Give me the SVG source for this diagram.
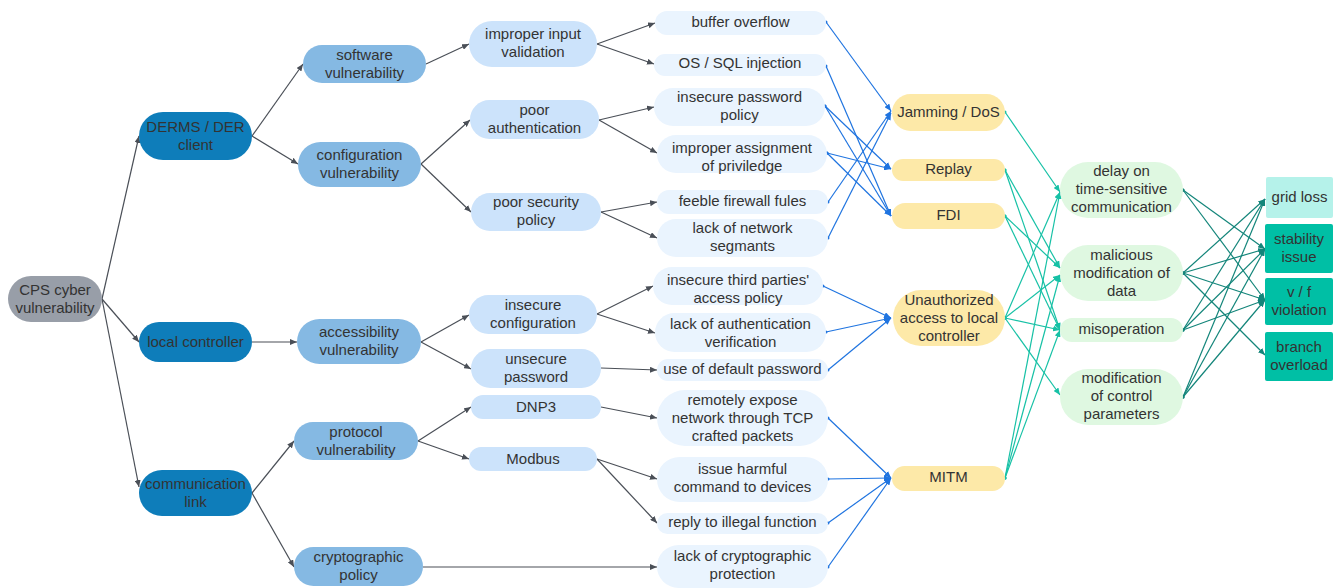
<svg xmlns="http://www.w3.org/2000/svg" width="1338" height="588" viewBox="0 0 1338 588">
<style>
text{font-family:"Liberation Sans",Arial,sans-serif;font-size:15px;fill:#333333;text-anchor:middle}
.c0{fill:#989ea8}
.c1{fill:#0e7dba}
.c2{fill:#85b9e3}
.c3{fill:#cce3fb}
.c4{fill:#eaf4fe}
.c5{fill:#fde9a8}
.c6{fill:#dff8e1}
.c7{fill:#b5f2ea}
.c8{fill:#00bfa5}
.g line{stroke:#4a4f57;stroke-width:1.2;marker-end:url(#ag)}
.b line{stroke:#1f74e0;stroke-width:1.2;marker-end:url(#ab);marker-start:url(#db)}
.t line{stroke:#17c1a6;stroke-width:1.2;marker-end:url(#at);marker-start:url(#dt)}
.d line{stroke:#13857a;stroke-width:1.2;marker-end:url(#ad);marker-start:url(#dd)}
</style>
<defs>
<marker id="ag" markerUnits="userSpaceOnUse" markerWidth="8" markerHeight="6" refX="7" refY="3" orient="auto"><path d="M0,0 L7,3 L0,6 z" fill="#4a4f57"/></marker>
<marker id="ab" markerUnits="userSpaceOnUse" markerWidth="8" markerHeight="6" refX="7" refY="3" orient="auto"><path d="M0,0 L7,3 L0,6 z" fill="#1f74e0"/></marker>
<marker id="at" markerUnits="userSpaceOnUse" markerWidth="8" markerHeight="6" refX="7" refY="3" orient="auto"><path d="M0,0 L7,3 L0,6 z" fill="#17c1a6"/></marker>
<marker id="ad" markerUnits="userSpaceOnUse" markerWidth="8" markerHeight="6" refX="7" refY="3" orient="auto"><path d="M0,0 L7,3 L0,6 z" fill="#13857a"/></marker>
<marker id="db" markerUnits="userSpaceOnUse" markerWidth="4" markerHeight="4" refX="2" refY="2"><circle cx="2" cy="2" r="1.5" fill="#1f74e0"/></marker>
<marker id="dt" markerUnits="userSpaceOnUse" markerWidth="4" markerHeight="4" refX="2" refY="2"><circle cx="2" cy="2" r="1.5" fill="#17c1a6"/></marker>
<marker id="dd" markerUnits="userSpaceOnUse" markerWidth="4" markerHeight="4" refX="2" refY="2"><circle cx="2" cy="2" r="1.5" fill="#13857a"/></marker>
</defs>
<rect width="1338" height="588" fill="#ffffff"/>

<g id="connectors">
<g class="g">
<line x1="102" y1="299" x2="139" y2="136"/>
<line x1="102" y1="299" x2="139" y2="342"/>
<line x1="102" y1="299" x2="139" y2="487"/>
<line x1="252" y1="136" x2="303" y2="64"/>
<line x1="252" y1="136" x2="298" y2="164"/>
<line x1="252" y1="342" x2="297" y2="342"/>
<line x1="252" y1="493" x2="294" y2="441"/>
<line x1="252" y1="493" x2="294" y2="567"/>
<line x1="426" y1="64" x2="469" y2="44"/>
<line x1="421" y1="164" x2="470" y2="120"/>
<line x1="421" y1="164" x2="471" y2="212"/>
<line x1="421" y1="342" x2="469" y2="315"/>
<line x1="421" y1="342" x2="471" y2="369"/>
<line x1="418" y1="441" x2="471" y2="407"/>
<line x1="418" y1="441" x2="469" y2="459"/>
<line x1="423" y1="567" x2="657" y2="567"/>
<line x1="597" y1="44" x2="655" y2="23"/>
<line x1="597" y1="44" x2="654" y2="64"/>
<line x1="599" y1="120" x2="654" y2="107"/>
<line x1="599" y1="120" x2="657" y2="153"/>
<line x1="601" y1="212" x2="657" y2="202"/>
<line x1="601" y1="212" x2="657" y2="238"/>
<line x1="597" y1="314" x2="653" y2="286"/>
<line x1="597" y1="314" x2="655" y2="333"/>
<line x1="601" y1="368" x2="657" y2="370"/>
<line x1="601" y1="407" x2="657" y2="418"/>
<line x1="597" y1="459" x2="657" y2="479"/>
<line x1="597" y1="459" x2="657" y2="523"/>
</g>
<g class="b">
<line x1="826" y1="22" x2="891" y2="111"/>
<line x1="826" y1="66" x2="891" y2="216"/>
<line x1="825" y1="106" x2="891" y2="169"/>
<line x1="825" y1="106" x2="891" y2="216"/>
<line x1="827" y1="153" x2="891" y2="169"/>
<line x1="827" y1="153" x2="891" y2="216"/>
<line x1="828" y1="202" x2="891" y2="111"/>
<line x1="828" y1="238" x2="891" y2="113"/>
<line x1="823" y1="286" x2="891" y2="318"/>
<line x1="826" y1="332" x2="891" y2="318"/>
<line x1="828" y1="370" x2="891" y2="318"/>
<line x1="828" y1="418" x2="891" y2="478"/>
<line x1="828" y1="479" x2="891" y2="478"/>
<line x1="828" y1="523" x2="891" y2="478"/>
<line x1="828" y1="567" x2="891" y2="478"/>
</g>
<g class="t">
<line x1="1005" y1="112" x2="1060" y2="192"/>
<line x1="1005" y1="170" x2="1060" y2="268"/>
<line x1="1005" y1="170" x2="1060" y2="330"/>
<line x1="1005" y1="216" x2="1060" y2="268"/>
<line x1="1005" y1="216" x2="1060" y2="330"/>
<line x1="1005" y1="318" x2="1060" y2="192"/>
<line x1="1005" y1="318" x2="1060" y2="275"/>
<line x1="1005" y1="318" x2="1060" y2="330"/>
<line x1="1005" y1="318" x2="1060" y2="395"/>
<line x1="1005" y1="478" x2="1060" y2="192"/>
<line x1="1005" y1="478" x2="1060" y2="275"/>
<line x1="1005" y1="478" x2="1060" y2="330"/>
</g>
<g class="d">
<line x1="1183" y1="190" x2="1265" y2="249"/>
<line x1="1183" y1="190" x2="1265" y2="300"/>
<line x1="1183" y1="273" x2="1265" y2="199"/>
<line x1="1183" y1="273" x2="1265" y2="249"/>
<line x1="1183" y1="273" x2="1265" y2="300"/>
<line x1="1183" y1="273" x2="1265" y2="355"/>
<line x1="1183" y1="330" x2="1265" y2="199"/>
<line x1="1183" y1="330" x2="1265" y2="249"/>
<line x1="1183" y1="330" x2="1265" y2="300"/>
<line x1="1183" y1="397" x2="1265" y2="199"/>
<line x1="1183" y1="397" x2="1265" y2="249"/>
<line x1="1183" y1="397" x2="1265" y2="300"/>
</g>
</g>

<g id="n-cps"><rect class="c0" x="8" y="276" width="94" height="46" rx="23"/><text x="55" y="295">CPS cyber</text><text x="55" y="313">vulnerability</text></g>
<g id="n-derms"><rect class="c1" x="139" y="112" width="113" height="48" rx="24"/><text x="195.5" y="132">DERMS / DER</text><text x="195.5" y="150">client</text></g>
<g id="n-local"><rect class="c1" x="139" y="322" width="113" height="40" rx="20"/><text x="195.5" y="347">local controller</text></g>
<g id="n-comm"><rect class="c1" x="139" y="470" width="113" height="46" rx="23"/><text x="195.5" y="489">communication</text><text x="195.5" y="507">link</text></g>

<g id="n-software"><rect class="c2" x="303" y="45" width="123" height="38" rx="19"/><text x="364.5" y="60">software</text><text x="364.5" y="78">vulnerability</text></g>
<g id="n-config"><rect class="c2" x="298" y="142" width="123" height="45" rx="22.5"/><text x="359.5" y="160">configuration</text><text x="359.5" y="178">vulnerability</text></g>
<g id="n-access"><rect class="c2" x="297" y="319" width="124" height="45" rx="22.5"/><text x="359" y="337">accessibility</text><text x="359" y="355">vulnerability</text></g>
<g id="n-protocol"><rect class="c2" x="294" y="422" width="124" height="38" rx="19"/><text x="356" y="437">protocol</text><text x="356" y="455">vulnerability</text></g>
<g id="n-crypto"><rect class="c2" x="294" y="547" width="129" height="39" rx="19.5"/><text x="358.5" y="562">cryptographic</text><text x="358.5" y="580">policy</text></g>

<g id="n-input"><rect class="c3" x="469" y="21" width="128" height="46" rx="23"/><text x="533" y="39">improper input</text><text x="533" y="57">validation</text></g>
<g id="n-auth"><rect class="c3" x="470" y="100" width="129" height="39" rx="19.5"/><text x="534.5" y="115">poor</text><text x="534.5" y="133">authentication</text></g>
<g id="n-secpol"><rect class="c3" x="471" y="193" width="130" height="38" rx="19"/><text x="536" y="207">poor security</text><text x="536" y="225">policy</text></g>
<g id="n-insconf"><rect class="c3" x="469" y="295" width="128" height="39" rx="19.5"/><text x="533" y="310">insecure</text><text x="533" y="328">configuration</text></g>
<g id="n-unpass"><rect class="c3" x="471" y="349" width="130" height="39" rx="19.5"/><text x="536" y="364">unsecure</text><text x="536" y="382">password</text></g>
<g id="n-dnp3"><rect class="c3" x="471" y="395" width="130" height="24" rx="12"/><text x="536" y="412">DNP3</text></g>
<g id="n-modbus"><rect class="c3" x="469" y="447" width="128" height="24" rx="12"/><text x="533" y="464">Modbus</text></g>

<g id="n-buffer"><rect class="c4" x="655" y="11" width="171" height="24" rx="12"/><text x="740.5" y="27">buffer overflow</text></g>
<g id="n-sql"><rect class="c4" x="654" y="54" width="172" height="22" rx="11"/><text x="740" y="68">OS / SQL injection</text></g>
<g id="n-pwpol"><rect class="c4" x="654" y="88" width="171" height="38" rx="19"/><text x="739.5" y="102">insecure password</text><text x="739.5" y="120">policy</text></g>
<g id="n-priv"><rect class="c4" x="657" y="135" width="170" height="38" rx="19"/><text x="742" y="153">improper assignment</text><text x="742" y="171">of priviledge</text></g>
<g id="n-firewall"><rect class="c4" x="657" y="190" width="171" height="24" rx="12"/><text x="742.5" y="206">feeble firewall fules</text></g>
<g id="n-segm"><rect class="c4" x="657" y="219" width="171" height="38" rx="19"/><text x="742.5" y="233">lack of network</text><text x="742.5" y="251">segmants</text></g>
<g id="n-third"><rect class="c4" x="653" y="267" width="170" height="38" rx="19"/><text x="738" y="285">insecure third parties'</text><text x="738" y="303">access policy</text></g>
<g id="n-lackauth"><rect class="c4" x="655" y="313" width="171" height="39" rx="19.5"/><text x="740.5" y="329">lack of authentication</text><text x="740.5" y="347">verification</text></g>
<g id="n-default"><rect class="c4" x="657" y="359" width="171" height="22" rx="11"/><text x="742.5" y="374">use of default password</text></g>
<g id="n-remote"><rect class="c4" x="657" y="390" width="171" height="56" rx="28"/><text x="742.5" y="405">remotely expose</text><text x="742.5" y="423">network through TCP</text><text x="742.5" y="441">crafted packets</text></g>
<g id="n-harmful"><rect class="c4" x="657" y="457" width="171" height="45" rx="22.5"/><text x="742.5" y="474">issue harmful</text><text x="742.5" y="492">command to devices</text></g>
<g id="n-illegal"><rect class="c4" x="657" y="513" width="171" height="21" rx="10.5"/><text x="742.5" y="527">reply to illegal function</text></g>
<g id="n-lackcrypto"><rect class="c4" x="657" y="545" width="171" height="43" rx="21.5"/><text x="742.5" y="561">lack of cryptographic</text><text x="742.5" y="579">protection</text></g>

<g id="n-jamming"><rect class="c5" x="892" y="94" width="113" height="37" rx="18.5"/><text x="948.5" y="117">Jamming / DoS</text></g>
<g id="n-replay"><rect class="c5" x="892" y="159" width="113" height="22" rx="11"/><text x="948.5" y="174">Replay</text></g>
<g id="n-fdi"><rect class="c5" x="892" y="203" width="113" height="26" rx="13"/><text x="948.5" y="220">FDI</text></g>
<g id="n-unauth"><rect class="c5" x="893" y="290" width="112" height="56" rx="28"/><text x="949" y="305">Unauthorized</text><text x="949" y="323">access to local</text><text x="949" y="341">controller</text></g>
<g id="n-mitm"><rect class="c5" x="892" y="466" width="113" height="25" rx="12.5"/><text x="948.5" y="482">MITM</text></g>

<g id="n-delay"><rect class="c6" x="1060" y="162" width="123" height="56" rx="28"/><text x="1121.5" y="176">delay on</text><text x="1121.5" y="194">time-sensitive</text><text x="1121.5" y="212">communication</text></g>
<g id="n-malicious"><rect class="c6" x="1060" y="245" width="123" height="56" rx="28"/><text x="1121.5" y="260">malicious</text><text x="1121.5" y="278">modification of</text><text x="1121.5" y="296">data</text></g>
<g id="n-misop"><rect class="c6" x="1060" y="318" width="123" height="24" rx="12"/><text x="1121.5" y="334">misoperation</text></g>
<g id="n-modctl"><rect class="c6" x="1060" y="369" width="123" height="56" rx="28"/><text x="1121.5" y="383">modification</text><text x="1121.5" y="401">of control</text><text x="1121.5" y="419">parameters</text></g>

<g id="n-grid"><rect class="c7" x="1266" y="177" width="67" height="41" rx="2"/><text x="1299.5" y="202">grid loss</text></g>
<g id="n-stab"><rect class="c8" x="1265" y="224" width="68" height="49" rx="2"/><text x="1299" y="244">stability</text><text x="1299" y="262">issue</text></g>
<g id="n-vf"><rect class="c8" x="1265" y="278" width="68" height="47" rx="2"/><text x="1299" y="297">v / f</text><text x="1299" y="315">violation</text></g>
<g id="n-branch"><rect class="c8" x="1265" y="332" width="68" height="49" rx="2"/><text x="1299" y="352">branch</text><text x="1299" y="370">overload</text></g>
</svg>
